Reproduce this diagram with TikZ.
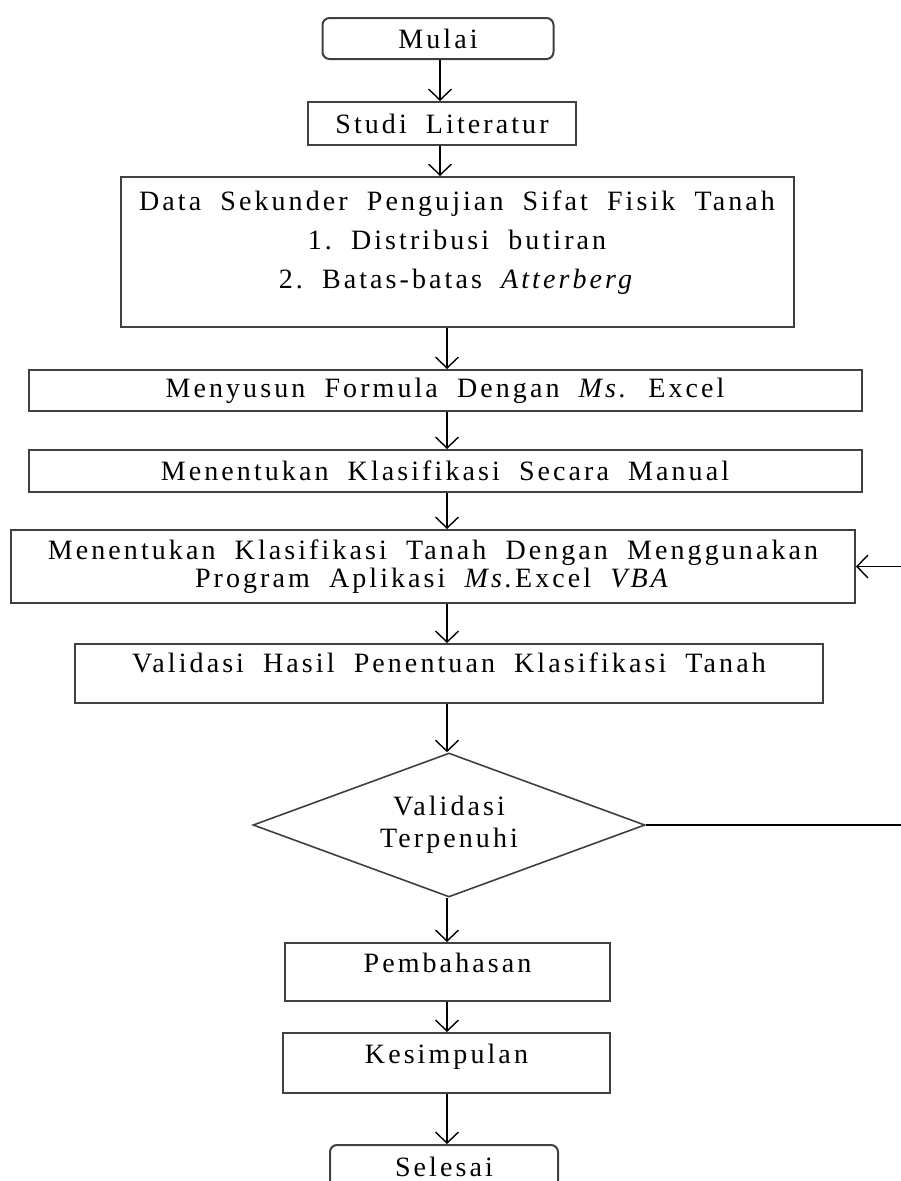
\documentclass[tikz,border=0pt]{standalone}
\usepackage{fontspec}
\setmainfont{Liberation Serif}[LetterSpace=11, WordSpace=1.9]
\usetikzlibrary{shapes.geometric,arrows.meta}
\frenchspacing

\tikzset{
  proses/.style={draw=black!75, line width=2pt, rectangle, inner sep=0pt, align=center},
  terminal/.style={proses, rounded corners=7pt},
  keputusan/.style={draw=black!75, line width=1.6pt, diamond, aspect=2.72, inner sep=0pt, align=center,
    minimum width=392pt, minimum height=144pt},
  panah/.style={-{Straight Barb[length=11pt,width=23pt,line width=1.4pt]}, line width=1.4pt}
}

\begin{document}
\begin{tikzpicture}[x=1pt, y=-1pt, font=\fontsize{28}{28}\selectfont]
    \clip (0,0) rectangle (901,1181);
    \fill[white] (0,0) rectangle (901,1181);

    % kolom panah
    \coordinate (colA) at (440,0);
    \coordinate (colB) at (447,0);
    \coordinate (balik) at (920,0);

    \node[terminal, minimum width=231pt, minimum height=41pt] (mulai) at (438,38.5) {Mulai};
    \node[proses, minimum width=268pt, minimum height=43pt] (studi) at (442,123.5) {Studi Literatur};
    \node[proses, minimum width=673pt, minimum height=150pt, text depth=24pt] (data) at (457,252)
        {Data Sekunder Pengujian Sifat Fisik Tanah\\[11pt]
         1. Distribusi butiran\\[11pt]
         2. Batas-batas \textit{Atterberg}};
    \node[proses, minimum width=833pt, minimum height=41pt] (formula) at (445,390.5)
        {Menyusun Formula Dengan \textit{Ms.} Excel};
    \node[proses, minimum width=833pt, minimum height=42pt] (manual) at (445,471)
        {Menentukan Klasifikasi Secara Manual};
    \node[proses, minimum width=844pt, minimum height=73pt] (vba) at (433,566.5)
        {Menentukan Klasifikasi Tanah Dengan Menggunakan\\
         Program Aplikasi \textit{Ms.}Excel \textit{VBA}};
    \node[proses, minimum width=748pt, minimum height=59pt, text depth=22pt] (hasil) at (449,673.5)
        {Validasi Hasil Penentuan Klasifikasi Tanah};
    \node[keputusan] (cek) at (449,825) {Validasi\\[4pt] Terpenuhi};
    \node[proses, minimum width=325pt, minimum height=58pt, text depth=18pt] (bahas) at (447.5,972) {Pembahasan};
    \node[proses, minimum width=327pt, minimum height=60pt, text depth=18pt] (simpul) at (446.5,1063) {Kesimpulan};
    \node[terminal, minimum width=228pt, minimum height=44pt] (selesai) at (444,1167) {Selesai};

    \draw[panah] (mulai.south -| colA) -- (studi.north -| colA);
    \draw[panah] (studi.south -| colA) -- (data.north -| colA);
    \draw[panah] (data.south -| colB) -- (formula.north -| colB);
    \draw[panah] (formula.south -| colB) -- (manual.north -| colB);
    \draw[panah] (manual.south -| colB) -- (vba.north -| colB);
    \draw[panah] (vba.south -| colB) -- (hasil.north -| colB);
    \draw[panah] (hasil.south -| colB) -- (cek.north -| colB);
    \draw[panah] (cek.south -| colB) -- (bahas.north -| colB);
    \draw[panah] (bahas.south -| colB) -- (simpul.north -| colB);
    \draw[panah] (simpul.south -| colB) -- (selesai.north -| colB);
    \draw[panah] (cek.east) -- (cek.east -| balik) |- (vba.east);
\end{tikzpicture}
\end{document}
